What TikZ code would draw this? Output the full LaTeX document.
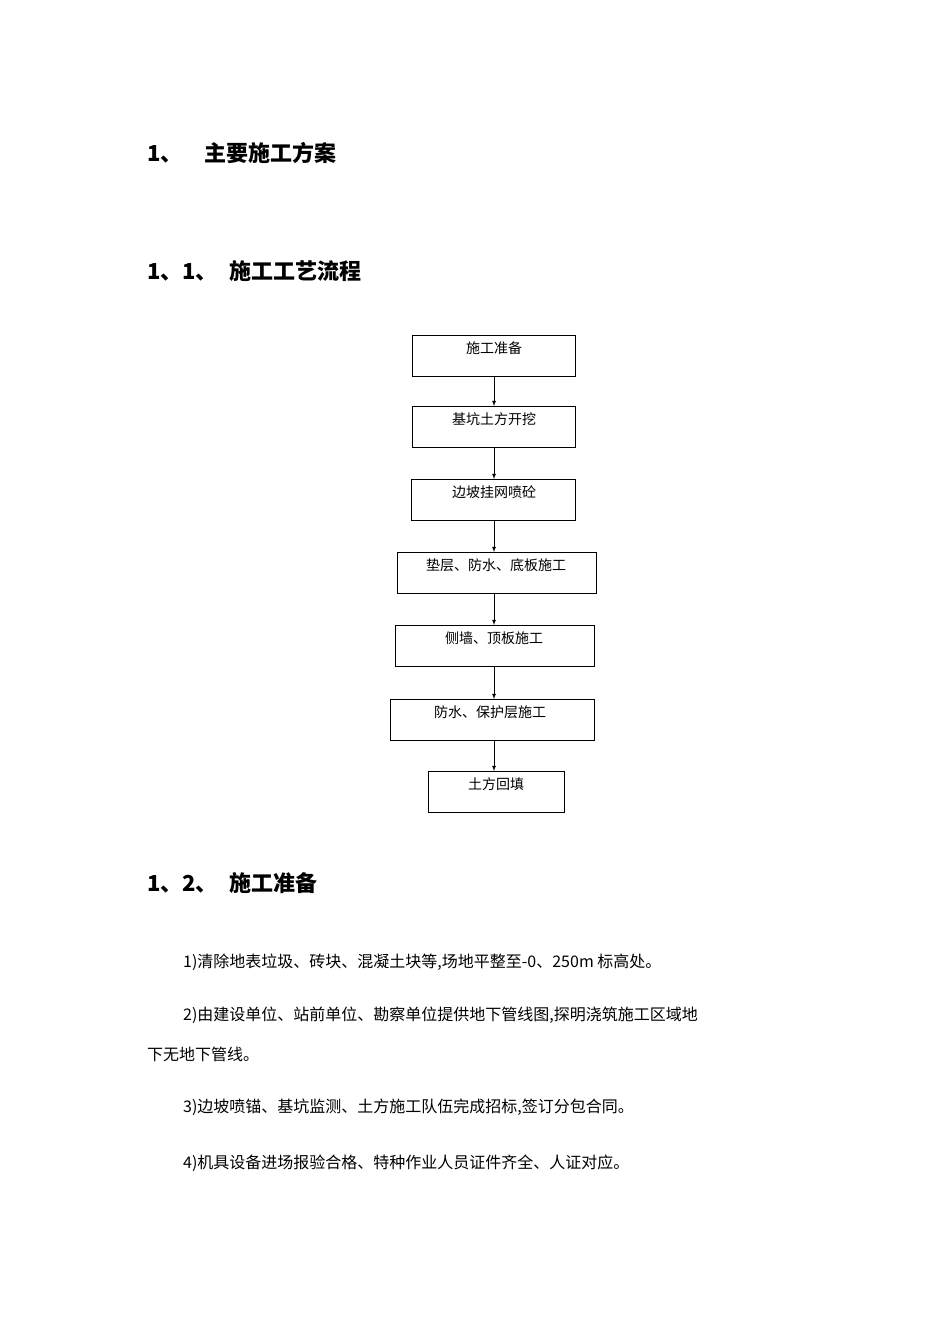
\documentclass[tikz,border=0pt]{standalone}
\usepackage{fontspec}
\setmainfont{Noto Sans CJK SC}
\newfontfamily\lat{Carlito}
\begin{document}
\begin{tikzpicture}[x=1pt,y=-1pt,
  box/.style={draw,line width=0.8pt,minimum height=41pt,inner sep=0pt,font=\fontsize{14}{16}\selectfont,text depth=0pt,anchor=north west},
  arr/.style={-latex,line width=0.8pt},
  head/.style={anchor=west,font=\fontsize{22}{26}\selectfont\bfseries,inner sep=0pt},
  body/.style={anchor=west,font=\fontsize{16}{20}\selectfont,inner sep=0pt}]
\useasboundingbox (0,0) rectangle (950,1344);
\node[head] (h1) at (147,153) {1、\hspace{22pt}主要施工方案};
\node[head] (h2) at (147,271) {1、1、\hspace{12pt}施工工艺流程};
\node[head] (h3) at (147,883) {1、2、\hspace{12pt}施工准备};
\newcommand\bx[6]{\node[box,minimum width=#4pt] (#1) at (#2,#3) {};
  \node[font=\fontsize{14}{16}\selectfont,inner sep=0pt] at (#5,#3+13) {#6};}
\bx{b1}{412}{335}{163}{494}{施工准备}
\bx{b2}{412}{406}{163}{494}{基坑土方开挖}
\bx{b3}{411}{479}{164}{494}{边坡挂网喷砼}
\bx{b4}{397}{552}{199}{496}{垫层、防水、底板施工}
\bx{b5}{395}{625}{199}{494}{侧墙、顶板施工}
\bx{b6}{390}{699}{204}{490}{防水、保护层施工}
\bx{b7}{428}{771}{136}{496}{土方回填}
\foreach \a/\b in {b1/b2,b2/b3,b3/b4,b4/b5,b5/b6,b6/b7}
  \draw[arr] (\a.south -| 494,0) -- (\b.north -| 494,0);
\node[body] (t1) at (183,962) {1)清除地表垃圾、砖块、混凝土块等,场地平整至-0、250m 标高处。};
\node[body] (t2) at (183,1015) {2)由建设单位、站前单位、勘察单位提供地下管线图,探明浇筑施工区域地};
\node[body] (t2b) at (147,1054) {下无地下管线。};
\node[body] (t3) at (183,1107) {3)边坡喷锚、基坑监测、土方施工队伍完成招标,签订分包合同。};
\node[body] (t4) at (183,1163) {4)机具设备进场报验合格、特种作业人员证件齐全、人证对应。};
\end{tikzpicture}
\end{document}
